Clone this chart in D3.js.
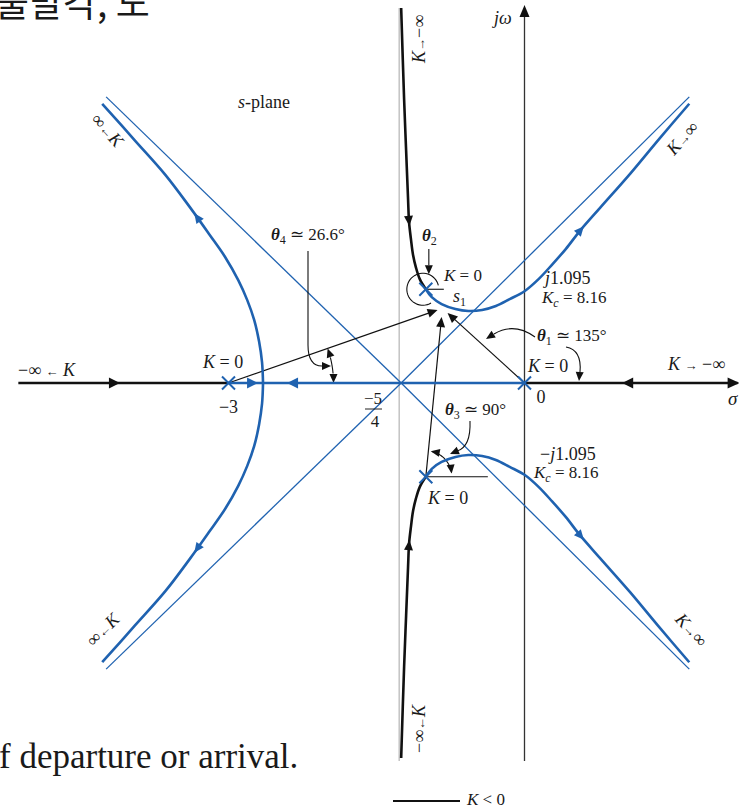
<!DOCTYPE html>
<html><head><meta charset="utf-8">
<script src="https://cdn.jsdelivr.net/npm/d3@7"></script>
<style>
html,body{margin:0;padding:0;background:#fff;overflow:hidden;}
svg{display:block;}
text{font-family:"Liberation Serif","Times New Roman",serif;fill:#1a1a1a;}
</style></head><body>
<script>
// Root locus of G(s) = K / [s(s+3)(s^2+2s+2)]  (s-plane, units of sigma / omega)
const realPoles = [0, -3];
const complexPole = [-1.0, 0.95];          // upper pole, its conjugate is the lower one
const centroid = -5 / 4;                    // asymptote intersection
const breakaway = -2.65;
const testPoint = [-0.82, 0.74];            // s1, near the upper pole

// K > 0 branch leaving the upper complex pole (lower branch is its conjugate)
const upperRightBranch = [[-1.00,0.95],[-0.94,0.87],[-0.84,0.80],[-0.70,0.75],[-0.57,0.73],
  [-0.43,0.74],[-0.29,0.78],[-0.15,0.85],[0.00,0.93],[0.14,1.05],[0.28,1.20],[0.42,1.36],
  [0.56,1.54],[0.77,1.78],[1.07,2.12],[1.37,2.48],[1.67,2.83]];
// K > 0 branch leaving the real axis at the breakaway point
const leftBranch = [[-2.65,0],[-2.66,0.21],[-2.69,0.42],[-2.74,0.64],[-2.81,0.84],[-2.90,1.04],
  [-3.03,1.27],[-3.19,1.50],[-3.39,1.78],[-3.64,2.11],[-3.95,2.46],[-4.28,2.83]];
// K < 0 branch arriving at the upper complex pole (from K = -inf)
const upperNegBranch = [[-1.25,3.80],[-1.22,2.87],[-1.20,2.36],[-1.18,1.86],[-1.17,1.63],
  [-1.15,1.45],[-1.13,1.30],[-1.10,1.17],[-1.06,1.05],[-1.00,0.95]];
// far ends of the asymptotes drawn from the centroid (upper half, mirrored below)
const asymptoteEnds = [[1.67,2.90],[-4.24,2.90]];
// real-axis segments
const posRealAxis = [[-3, 0]];                      // K > 0
const negRealAxis = [[-5.13, -3], [0, 2.16]];       // K < 0
const imagExtent = [-3.83, 3.80];
const jw = 1.095, Kc = 8.16;
const theta = {t1: 135, t3: 90, t4: 26.6};

const W = 739, H = 810;
const x = d3.scaleLinear().domain([-3, 0]).range([228.5, 524.5]);
const y = d3.scaleLinear().domain([0, 1]).range([383, 383 - 98.67]);
const BLUE = '#1f62b0', INK = '#111';
const conj = pts => pts.map(([r, i]) => [r, -i]);
const line = d3.line().x(d => x(d[0])).y(d => y(d[1])).curve(d3.curveCatmullRom.alpha(0.5));

const svg = d3.select('body').append('svg').attr('width', W).attr('height', H);

function head(g, px, py, ang, color, len = 10, hw = 4.5) {
  g.append('path').attr('d', `M0,0L${-len},${-hw}L${-len},${hw}Z`)
    .attr('transform', `translate(${px},${py}) rotate(${ang * 180 / Math.PI})`)
    .attr('fill', color);
}
function arrowAtIm(path, im, color) {
  const node = path.node(), L = node.getTotalLength(), ty = y(im);
  let best = 0, bd = 1e9;
  for (let l = 0; l <= L; l += 0.5) {
    const p = node.getPointAtLength(l), d = Math.abs(p.y - ty);
    if (d < bd) { bd = d; best = l; }
  }
  const p = node.getPointAtLength(best), q = node.getPointAtLength(Math.max(0, best - 3));
  head(svg, p.x, p.y, Math.atan2(p.y - q.y, p.x - q.x), color);
}

// reference line through the centroid and the j-omega axis
svg.append('line').attr('x1', x(centroid) - 2).attr('x2', x(centroid) - 2)
  .attr('y1', y(imagExtent[1])).attr('y2', y(imagExtent[0]))
  .attr('stroke', '#b4b4b4').attr('stroke-width', 1.2);
svg.append('line').attr('x1', x(0)).attr('x2', x(0))
  .attr('y1', y(imagExtent[1]) + 6).attr('y2', y(imagExtent[0]))
  .attr('stroke', '#333').attr('stroke-width', 1.3);
head(svg, x(0), y(imagExtent[1]) - 3, -Math.PI / 2, INK, 12, 5);

// asymptotes
asymptoteEnds.concat(conj(asymptoteEnds)).forEach(e => {
  svg.append('line').attr('x1', x(centroid)).attr('y1', y(0)).attr('x2', x(e[0])).attr('y2', y(e[1]))
    .attr('stroke', BLUE).attr('stroke-width', 1.3);
});

// vectors from the open-loop poles to s1
const s1 = [x(testPoint[0]), y(testPoint[1])];
const vecs = [
  {from: [x(-3), y(0)], to: [s1[0] - 6, s1[1] + 0]},
  {from: [x(0), y(0)], to: [s1[0] + 4, s1[1] + 3]},
  {from: [x(complexPole[0]), y(-complexPole[1])], to: [s1[0] - 2, s1[1] + 7]}
];
vecs.forEach(v => {
  const a = Math.atan2(v.to[1] - v.from[1], v.to[0] - v.from[0]);
  svg.append('line').attr('x1', v.from[0]).attr('y1', v.from[1])
    .attr('x2', v.to[0] - 8 * Math.cos(a)).attr('y2', v.to[1] - 8 * Math.sin(a))
    .attr('stroke', INK).attr('stroke-width', 1.2);
  head(svg, v.to[0], v.to[1], a, INK, 10, 4.5);
});

// angle marks
const thin = {stroke: INK, 'stroke-width': 1.1, fill: 'none'};
function styled(sel) { Object.entries(thin).forEach(([k, v]) => sel.attr(k, v)); return sel; }
function arcPts(cx, cy, r, a0, a1, n = 40) {
  return d3.range(n + 1).map(i => { const a = a0 + (a1 - a0) * i / n; return [cx + r * Math.cos(a), cy + r * Math.sin(a)]; });
}
const raw = d3.line();

// theta4 at the pole -3
{
  const cx = x(-3), cy = y(0), r = 105;
  const a1 = Math.atan2(s1[1] - cy, s1[0] - 6 - cx);
  const pts = arcPts(cx, cy, r, -0.09, a1 + 0.09);
  styled(svg.append('path').attr('d', raw(pts)));
  head(svg, cx + r * Math.cos(a1), cy + r * Math.sin(a1), a1 - Math.PI / 2, INK, 9, 4);
  head(svg, cx + r, cy, Math.PI / 2, INK, 9, 4);
  styled(svg.append('path').attr('d', 'M308,251L308,345Q308,366 322,366'));
  head(svg, 331, 366, 0, INK, 9, 4);
}
// theta2 at the upper pole
{
  const cx = x(complexPole[0]), cy = y(complexPole[1]), r = 16;
  styled(svg.append('line').attr('x1', cx).attr('y1', cy).attr('x2', cx + 18).attr('y2', cy));
  styled(svg.append('path').attr('d', raw(arcPts(cx - 3, cy, r, -0.25, -5.25))));
  styled(svg.append('path').attr('d', `M${cx + 3},249L${cx + 3},${cy - r - 8}`));
  head(svg, cx + 3, cy - r + 1, Math.PI / 2, INK, 9, 4);
}
// theta1 leaders
{
  styled(svg.append('path').attr('d', 'M535,337Q514,322 494,334'));
  head(svg, 486, 339, Math.atan2(5, -8), INK, 9, 4);
  styled(svg.append('path').attr('d', 'M566,347Q582,350 580,372'));
  head(svg, 579, 381, Math.PI / 2 + 0.08, INK, 9, 4);
}
// theta3 at the lower pole
{
  const cx = x(complexPole[0]), cy = y(-complexPole[1]), r = 26;
  styled(svg.append('line').attr('x1', cx).attr('y1', cy).attr('x2', cx + 62).attr('y2', cy));
  const a0 = -0.12, a1 = -1.38;
  styled(svg.append('path').attr('d', raw(arcPts(cx, cy, r, a0 - 0.05, a1 + 0.05))));
  head(svg, cx + r * Math.cos(a0), cy + r * Math.sin(a0), a0 + Math.PI / 2, INK, 9, 4);
  head(svg, cx + r * Math.cos(a1), cy + r * Math.sin(a1), a1 - Math.PI / 2, INK, 9, 4);
  styled(svg.append('path').attr('d', 'M470,421Q471,447 457,451'));
  head(svg, 450, 454, Math.atan2(3, -7), INK, 9, 4);
}

// real axis
posRealAxis.forEach(([a, b]) => svg.append('line').attr('x1', x(a)).attr('x2', x(b)).attr('y1', y(0)).attr('y2', y(0))
  .attr('stroke', BLUE).attr('stroke-width', 2.6));
negRealAxis.forEach(([a, b]) => svg.append('line').attr('x1', x(a)).attr('x2', x(b)).attr('y1', y(0)).attr('y2', y(0))
  .attr('stroke', INK).attr('stroke-width', 2.6));
head(svg, x(negRealAxis[1][1]) + 2, y(0), 0, INK, 12, 5.5);
head(svg, x(-4.10), y(0), 0, INK, 11, 5.5);
head(svg, x(0.99), y(0), Math.PI, INK, 11, 5.5);
head(svg, x(breakaway) - 5, y(0), 0, BLUE, 11, 5.5);
head(svg, x(breakaway) + 24, y(0), Math.PI, BLUE, 11, 5.5);

// branches
const branch = (pts, color) => svg.append('path').attr('d', line(pts)).attr('fill', 'none')
  .attr('stroke', color).attr('stroke-width', 2.6).attr('stroke-linecap', 'butt');
const ur = branch(upperRightBranch, BLUE), lr = branch(conj(upperRightBranch), BLUE);
const ul = branch(leftBranch, BLUE), ll = branch(conj(leftBranch), BLUE);
const un = branch(upperNegBranch, INK), ln = branch(conj(upperNegBranch), INK);
arrowAtIm(ur, 1.59, BLUE); arrowAtIm(lr, -1.59, BLUE);
arrowAtIm(ul, 1.72, BLUE); arrowAtIm(ll, -1.72, BLUE);
arrowAtIm(un, 1.59, INK); arrowAtIm(ln, -1.59, INK);

// open-loop poles
const poles = realPoles.map(p => [p, 0]).concat([complexPole, [complexPole[0], -complexPole[1]]]);
poles.forEach(([r, i]) => {
  const px = x(r), py = y(i), s = 6.5;
  svg.append('path').attr('d', `M${px - s},${py - s}L${px + s},${py + s}M${px - s},${py + s}L${px + s},${py - s}`)
    .attr('stroke', BLUE).attr('stroke-width', 2);
});

// text
function label(px, py, segs, opt = {}) {
  const t = svg.append('text').attr('x', px).attr('y', py).attr('font-size', opt.size || 17);
  if (opt.anchor) t.attr('text-anchor', opt.anchor);
  if (opt.transform) t.attr('transform', opt.transform).attr('x', 0).attr('y', 0);
  let shift = 0;
  segs.forEach(s => {
    const o = typeof s === 'string' ? {t: s} : s;
    const ts = t.append('tspan').text(o.t);
    if (o.i) ts.attr('font-style', 'italic');
    if (o.b) ts.attr('font-weight', 'bold');
    if (o.size) ts.attr('font-size', o.size);
    const want = o.sub ? 4 : 0;
    if (want !== shift) { ts.attr('dy', want - shift); shift = want; }
  });
  return t;
}
const th = {t: 'θ', i: true, b: true};
const arR = {t: '→', size: 13}, arL = {t: '←', size: 13};
label(238, 108, [{t: 's', i: true}, '-plane'], {size: 18});
label(271, 240, [th, {t: '4', sub: true, size: 12}, ` ≃ ${theta.t4}°`], {size: 17});
label(422, 241, [th, {t: '2', sub: true, size: 12}], {size: 17});
label(444, 281, [{t: 'K', i: true}, ' = 0'], {size: 17});
label(453, 302, [{t: 's', i: true}, {t: '1', sub: true, size: 12}], {size: 18});
label(545, 284, [{t: 'j', i: true}, String(jw.toFixed(3))], {size: 18});
label(542, 303, [{t: 'K', i: true}, {t: 'c', i: true, sub: true, size: 12}, ` = ${Kc}`]);
label(537, 341, [th, {t: '1', sub: true, size: 12}, ` ≃ ${theta.t1}°`]);
label(203, 368, [{t: 'K', i: true}, ' = 0'], {size: 18});
label(x(-3), 413, ['−3'], {anchor: 'middle', size: 18});
label(528, 372, [{t: 'K', i: true}, ' = 0'], {size: 18});
label(541, 403, ['0'], {anchor: 'middle', size: 18});
label(728, 405, [{t: 'σ', i: true}], {size: 19});
label(494, 24, [{t: 'j', i: true}, {t: 'ω', i: true}], {size: 18});
label(668, 370, [{t: 'K ', i: true}, arR, ' −∞'], {size: 18});
label(18, 376, ['−∞ ', arL, {t: ' K', i: true}], {size: 18});
label(445, 415, [th, {t: '3', sub: true, size: 12}, ` ≃ ${theta.t3}°`]);
label(540, 460, ['−', {t: 'j', i: true}, String(jw.toFixed(3))], {size: 18});
label(534, 478, [{t: 'K', i: true}, {t: 'c', i: true, sub: true, size: 12}, ` = ${Kc}`]);
label(428, 504, [{t: 'K', i: true}, ' = 0'], {size: 18});
// -5/4
label(373, 404, ['−5'], {anchor: 'middle'});
svg.append('line').attr('x1', 365).attr('x2', 382).attr('y1', 409).attr('y2', 409).attr('stroke', '#222').attr('stroke-width', 1);
label(375, 427, ['4'], {anchor: 'middle'});
// branch-end labels
label(0, 0, [{t: 'K', i: true}, arR, '−∞'], {size: 18, transform: 'translate(425,63) rotate(-90)'});
label(0, 0, ['−∞', arL, {t: 'K', i: true}], {size: 18, transform: 'translate(425,753) rotate(-90)'});
label(0, 0, ['∞', arL, {t: 'K', i: true}], {size: 18, anchor: 'middle', transform: 'translate(103,134) rotate(48)'});
label(0, 0, [{t: 'K', i: true}, arR, '∞'], {size: 18, anchor: 'middle', transform: 'translate(687,142) rotate(-48)'});
label(0, 0, ['∞', arL, {t: 'K', i: true}], {size: 18, anchor: 'middle', transform: 'translate(107,634) rotate(-45)'});
label(0, 0, [{t: 'K', i: true}, arR, '∞'], {size: 18, anchor: 'middle', transform: 'translate(687,634) rotate(48)'});

// legend
svg.append('line').attr('x1', 393).attr('x2', 460).attr('y1', 801).attr('y2', 801).attr('stroke', INK).attr('stroke-width', 2.2);
label(467, 805, [{t: 'K', i: true}, ' < 0'], {size: 17});

// surrounding page text
svg.append('text').attr('x', -5).attr('y', 17).attr('font-size', 37)
  .style('font-family', '"Noto Sans CJK KR", sans-serif').text('출발각, 도');
svg.append('text').attr('x', -1).attr('y', 768).attr('font-size', 35).text('f departure or arrival.');
</script>
</body></html>
